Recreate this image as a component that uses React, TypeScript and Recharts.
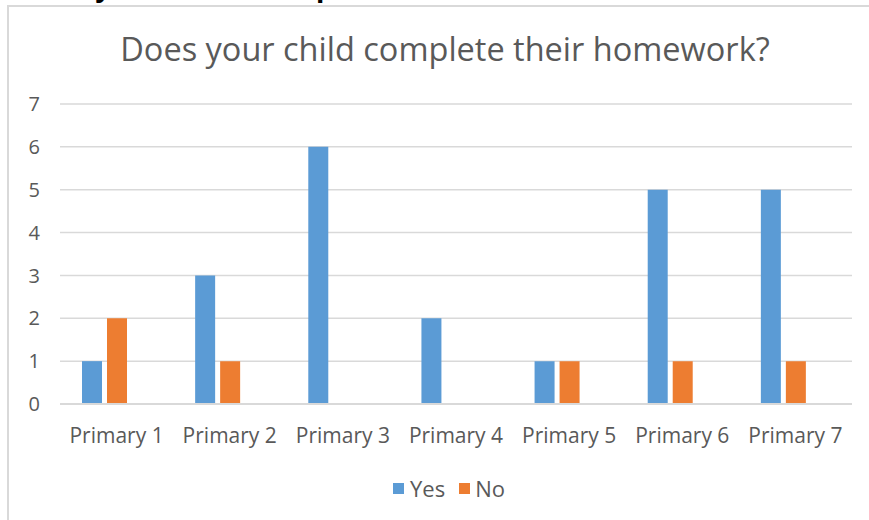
import React from "react";
import { BarChart, Bar, XAxis, YAxis, CartesianGrid, Legend } from "recharts";

const categories = ["Primary 1", "Primary 2", "Primary 3", "Primary 4", "Primary 5", "Primary 6", "Primary 7"];
const yesValues = [1, 3, 6, 2, 1, 5, 5];
const noValues = [2, 1, 0, 0, 1, 1, 1];
// empty third series in the source workbook (keeps bar pairs offset left of the label)
const blankValues = [null, null, null, null, null, null, null];
const yTicks = [0, 1, 2, 3, 4, 5, 6, 7];

const chartData = categories.map((c, i) => ({
    name: c,
    yes: yesValues[i],
    no: noValues[i],
    blank: blankValues[i],
}));

const FONT = "'Open Sans', Lato, sans-serif";
const TEXT = "#595959";

const LegendContent = () => (
    <div style={{ display: "flex", justifyContent: "center", alignItems: "center", height: 30, paddingLeft: 46, fontFamily: FONT, fontSize: 22, color: TEXT }}>
        <span style={{ display: "inline-block", width: 11, height: 11, background: "#5B9BD5", marginRight: 6 }} />
        <span style={{ marginRight: 14 }}>Yes</span>
        <span style={{ display: "inline-block", width: 11, height: 11, background: "#ED7D31", marginRight: 5 }} />
        <span>No</span>
    </div>
);

export default function App() {
    return (
        <div style={{ position: "absolute", left: 0, top: 0, width: 869, height: 520, overflow: "hidden", background: "#fff" }}>
            {/* cut-off page heading above the chart */}
            <div style={{ position: "absolute", left: 78, top: -30, fontFamily: "'Liberation Sans', Arial, sans-serif", fontWeight: 700, fontSize: 30, color: "#000", whiteSpace: "pre" }}>
                {"  y"}
            </div>
            <div style={{ position: "absolute", left: 316, top: -30, fontFamily: "'Liberation Sans', Arial, sans-serif", fontWeight: 700, fontSize: 30, color: "#000" }}>
                p
            </div>
            <div style={{ position: "absolute", left: 7, top: 5, width: 900, height: 560, border: "2px solid #D9D9D9", boxSizing: "border-box", background: "#fff" }} />
            <div style={{ position: "absolute", left: 0, top: 26, width: 890, textAlign: "center", fontFamily: FONT, fontSize: 32.5, color: TEXT }}>
                Does your child complete their homework?
            </div>
            <div style={{ position: "absolute", left: 0, top: 0 }}>
                <BarChart
                    width={869}
                    height={520}
                    data={chartData}
                    margin={{ top: 104, right: 17, left: 0, bottom: 0 }}
                    barSize={20}
                    barGap={5}
                >
                    <CartesianGrid vertical={false} stroke="#D9D9D9" strokeWidth={1.5} />
                    <XAxis
                        dataKey="name"
                        height={86}
                        tickLine={false}
                        tickSize={0}
                        tickMargin={24}
                        axisLine={{ stroke: "#D9D9D9", strokeWidth: 2 }}
                        tick={{ fill: TEXT, fontSize: 21, fontFamily: FONT }}
                        interval={0}
                    />
                    <YAxis
                        width={60}
                        domain={[0, 7]}
                        ticks={yTicks}
                        tickLine={false}
                        axisLine={false}
                        tickSize={0}
                        tickMargin={20}
                        tick={{ fill: TEXT, fontSize: 20, fontFamily: FONT }}
                    />
                    <Legend verticalAlign="bottom" height={30} wrapperStyle={{ bottom: 17 }} content={<LegendContent />} />
                    <Bar dataKey="yes" name="Yes" fill="#5B9BD5" isAnimationActive={false} />
                    <Bar dataKey="no" name="No" fill="#ED7D31" isAnimationActive={false} />
                    <Bar dataKey="blank" name="" fill="#A5A5A5" legendType="none" isAnimationActive={false} />
                </BarChart>
            </div>
        </div>
    );
}
